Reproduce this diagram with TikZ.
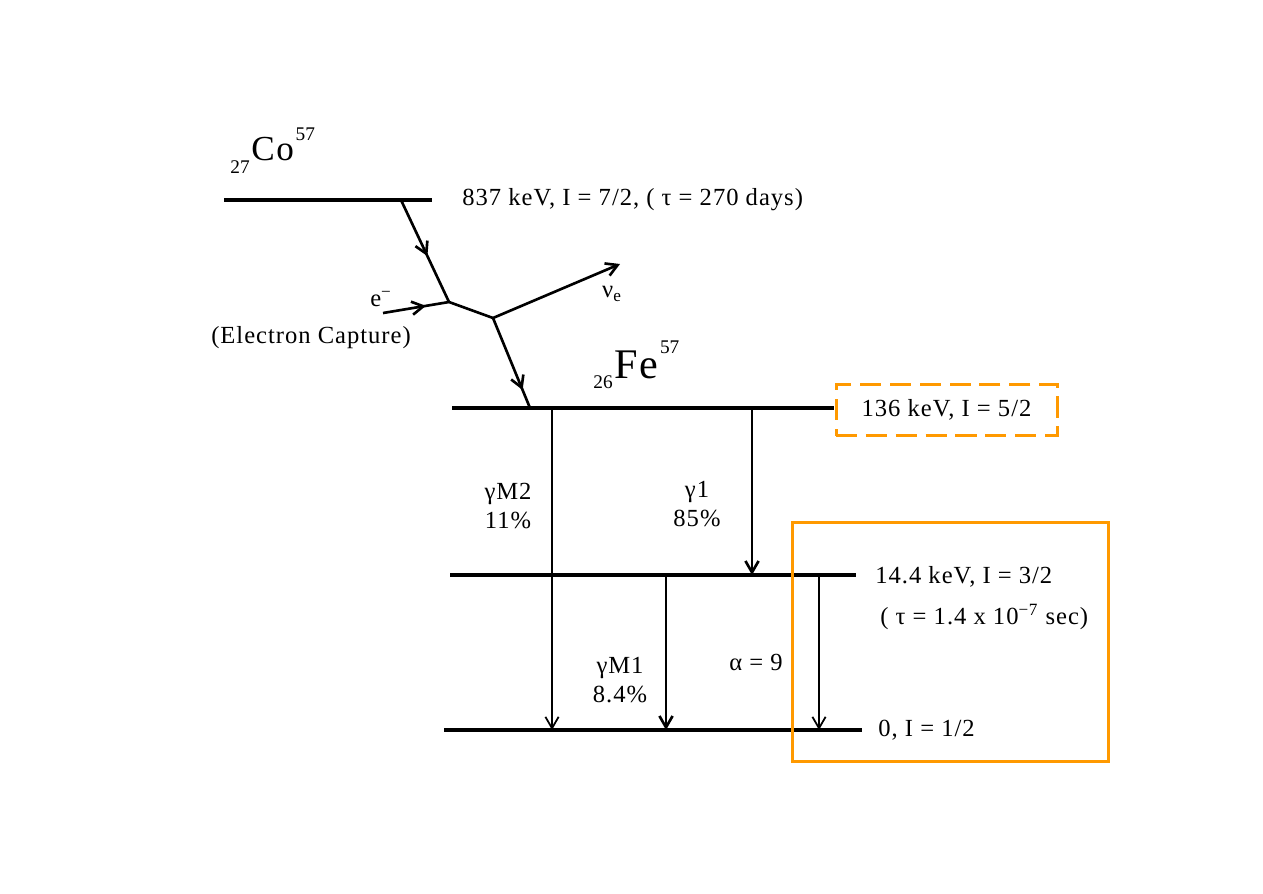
\documentclass[tikz,border=0pt]{standalone}
\usepackage{fontspec}
\setmainfont{Liberation Serif}
\newfontfamily\wideserif[LetterSpace=4]{Liberation Serif}
\usetikzlibrary{arrows.meta,decorations.markings,positioning}
\definecolor{boxorange}{RGB}{255,153,0}
\tikzset{
  >={Straight Barb[length=6.5pt,width=7.5pt]},
  level/.style={line width=1.8pt, draw=black},
  decay/.style={line width=1.5pt, draw=black},
  gthin/.style={->, line width=1pt},
  gthick/.style={->, line width=1.5pt},
  midarrow/.style={
    decoration={markings, mark=at position #1 with {\arrow{Straight Barb[length=6.5pt,width=7.5pt]}}},
    postaction={decorate}
  },
  lvltext/.style={anchor=west, inner sep=0pt, font=\wideserif\fontsize{14}{17}\selectfont},
  gtext/.style={align=center, inner sep=0pt, font=\wideserif\fontsize{14}{16}\selectfont},
  nuclide/.style={anchor=base west, inner sep=0pt}
}
\newcommand{\nucl}[6]{\raisebox{#5}{\fontsize{11}{11}\selectfont #1}\kern1pt{\wideserif\fontsize{#4}{#4}\selectfont #2}\kern1pt\raisebox{#6}{\fontsize{11}{11}\selectfont #3}}

\begin{document}
\begin{tikzpicture}[x=0.02cm,y=-0.02cm]
  \useasboundingbox (0,0) rectangle (1263,893);

  % energy levels
  \coordinate (coL) at (224,200); \coordinate (coR) at (432,200);
  \coordinate (feL) at (452,408); \coordinate (feR) at (834,408);
  \coordinate (midL) at (450,575); \coordinate (midR) at (856,575);
  \coordinate (gndL) at (444,730); \coordinate (gndR) at (862,730);
  \draw[level] (coL) -- (coR);
  \draw[level] (feL) -- (feR);
  \draw[level] (midL) -- (midR);
  \draw[level] (gndL) -- (gndR);

  % nuclide labels
  \node[nuclide] (co) at (230,160) {\nucl{27}{Co}{57}{20}{-7.4pt}{11.3pt}};
  \node[nuclide] (fe) at (593,378) {\nucl{26}{Fe}{57}{24}{-5.7pt}{14pt}};

  % level texts
  \node[lvltext] (co837) at (462,200) {837 keV, I = 7/2, ( τ = 270 days)};
  \node[draw=boxorange, line width=1.7pt, dash pattern=on 12pt off 5pt,
        minimum width=221*0.02cm, minimum height=51*0.02cm,
        font=\wideserif\fontsize{14}{17}\selectfont] (fe136) at (946.5,410) {136 keV, I = 5/2};
  \node[lvltext] (fe14) at (875,577) {14.4 keV, I = 3/2};
  \node[lvltext] (tau14) at (880,617) {( τ = 1.4 x 10\textsuperscript{−7} sec)};
  \node[lvltext] (fe0) at (878,730) {0, I = 1/2};

  % electron capture
  \coordinate (ecA) at (401,200);
  \coordinate (ecB) at (449,302);
  \coordinate (ecC) at (493,318);
  \coordinate (ecD) at (530,408);
  \coordinate (eIn) at (383,313);
  \coordinate (nuOut) at (620,264);
  \draw[decay, midarrow=0.55] (ecA) -- (ecB);
  \draw[decay, midarrow=0.65] (eIn) -- (ecB);
  \draw[decay] (ecB) -- (ecC);
  \draw[decay, ->] (ecC) -- (nuOut);
  \draw[decay, midarrow=0.8] (ecC) -- (ecD);
  \node[gtext] (elec) at (381,299) {e\textsuperscript{−}};
  \node[gtext] (nu) at (612,294) {ν\textsubscript{e}};
  \node[gtext] (capture) at (311,338) {(Electron Capture)};

  % gamma transitions
  \coordinate (m2a) at (552,408); \coordinate (m2b) at (552,730);
  \coordinate (g1a) at (752,408); \coordinate (g1b) at (752,575);
  \coordinate (m1a) at (666,575); \coordinate (m1b) at (666,730);
  \coordinate (ala) at (819,575); \coordinate (alb) at (819,730);
  \draw[gthin] (m2a) -- (m2b);
  \draw[gthick] (g1a) -- (g1b);
  \draw[gthick] (m1a) -- (m1b);
  \draw[gthin] (ala) -- (alb);
  \node[gtext] (m2text) at (508,506) {γM2\\11\%};
  \node[gtext] (g1text) at (697,504) {γ1\\85\%};
  \node[gtext] (m1text) at (620,680) {γM1\\8.4\%};
  \node[gtext] (alpha) at (756,662) {α = 9};

  % highlight box
  \coordinate (hlA) at (792,522); \coordinate (hlB) at (1108,761);
  \draw[boxorange, line width=1.7pt] (hlA) rectangle (hlB);
\end{tikzpicture}
\end{document}
